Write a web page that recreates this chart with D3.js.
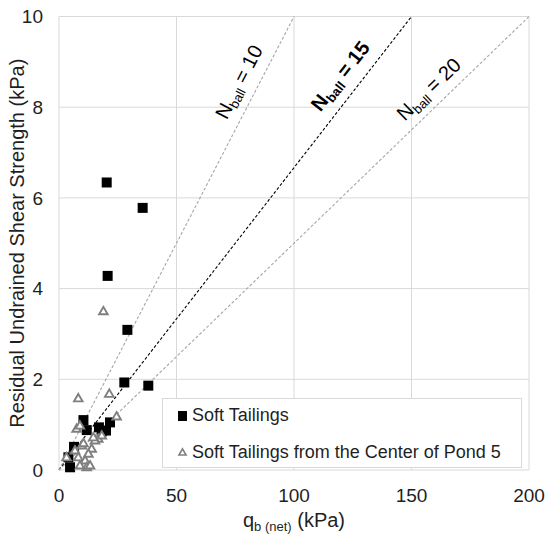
<!DOCTYPE html>
<html>
<head>
<meta charset="utf-8">
<script src="https://cdn.jsdelivr.net/npm/d3@7"></script>
<style>
  body { margin: 0; background: #fff; }
  text { font-family: "Liberation Sans", Arial, sans-serif; fill: #1f1f1f; }
</style>
</head>
<body>
<div class="chart"></div>
<script>
// Soft Tailings (black squares)
var softX = [20.3, 35.6, 20.7, 29.1, 27.8, 38.0, 10.4, 11.8, 17.0, 21.7, 20.0, 18.2, 6.4, 4.0, 4.7];
var softY = [6.34, 5.78, 4.28, 3.09, 1.93, 1.86, 1.10, 0.88, 0.94, 1.05, 0.87, 0.85, 0.51, 0.28, 0.06];

// Soft Tailings from the Center of Pond 5 (grey triangles)
var pondX = [18.9, 8.2, 21.4, 24.5, 3.2, 7.5, 8.9, 16.7, 18.2, 15.3, 13.9, 12.5, 9.7, 6.8, 8.2, 11.1, 11.8, 8.9, 13.2, 10.4, 14.6];
var pondY = [3.51, 1.59, 1.69, 1.19, 0.29, 0.92, 0.99, 0.70, 0.77, 0.66, 0.48, 0.37, 0.55, 0.44, 0.29, 0.22, 0.07, 0.11, 0.11, 0.60, 0.73];

// N_ball reference lines
var nballValues = [10, 15, 20];

var xTicks = [0, 50, 100, 150, 200];
var yTicks = [0, 2, 4, 6, 8, 10];

var svgWidth = 547, svgHeight = 535;
var margin = { top: 16.5, right: 18, bottom: 65, left: 59 };
var width = svgWidth - margin.left - margin.right;
var height = svgHeight - margin.top - margin.bottom;

var svg = d3.select(".chart")
    .append("svg")
    .attr("width", svgWidth)
    .attr("height", svgHeight);

var chartGroup = svg.append("g")
    .attr("transform", `translate(${margin.left}, ${margin.top})`);

var xScale = d3.scaleLinear().domain([0, 200]).range([0, width]);
var yScale = d3.scaleLinear().domain([0, 10]).range([height, 0]);

// gridlines
chartGroup.selectAll(".vgrid")
    .data(xTicks)
    .enter()
    .append("line")
    .attr("x1", d => xScale(d)).attr("x2", d => xScale(d))
    .attr("y1", 0).attr("y2", height)
    .attr("stroke", "#d9d9d9").attr("stroke-width", 1);

chartGroup.selectAll(".hgrid")
    .data(yTicks)
    .enter()
    .append("line")
    .attr("x1", 0).attr("x2", width)
    .attr("y1", d => yScale(d)).attr("y2", d => yScale(d))
    .attr("stroke", "#d9d9d9").attr("stroke-width", 1);

// tick labels
chartGroup.selectAll(".xlab")
    .data(xTicks)
    .enter()
    .append("text")
    .attr("x", d => xScale(d))
    .attr("y", height + 32)
    .attr("text-anchor", "middle")
    .attr("font-size", "19px")
    .text(d => d);

chartGroup.selectAll(".ylab")
    .data(yTicks)
    .enter()
    .append("text")
    .attr("x", -16)
    .attr("y", d => yScale(d))
    .attr("dy", "0.35em")
    .attr("text-anchor", "end")
    .attr("font-size", "19px")
    .text(d => d);

// reference lines y = x / N
var lineData = nballValues.map(n => ({ n: n, x1: 0, y1: 0, x2: 10 * n, y2: 10 }));

chartGroup.selectAll(".nline")
    .data(lineData)
    .enter()
    .append("line")
    .attr("x1", d => xScale(d.x1)).attr("y1", d => yScale(d.y1))
    .attr("x2", d => xScale(d.x2)).attr("y2", d => yScale(d.y2))
    .attr("stroke", d => d.n === 15 ? "#000" : "#a6a6a6")
    .attr("stroke-width", 1.1)
    .attr("stroke-dasharray", "3,2");

// line labels (positions in data units)
var labelPos = { 10: [76.5, 8.56], 15: [119.6, 8.69], 20: [157.3, 8.4] };
lineData.forEach(function (d) {
    var angle = Math.atan2(yScale(d.y2) - yScale(d.y1), xScale(d.x2) - xScale(d.x1)) * 180 / Math.PI;
    var p = labelPos[d.n];
    var t = chartGroup.append("text")
        .attr("transform", `translate(${xScale(p[0])}, ${yScale(p[1])}) rotate(${angle})`)
        .attr("text-anchor", "middle")
        .attr("dy", "0.35em")
        .attr("font-size", "20px")
        .attr("font-weight", d.n === 15 ? "bold" : "normal")
        .style("fill", "#000");
    t.append("tspan").text("N");
    t.append("tspan").attr("font-size", "13px").attr("dy", 4).text("ball");
    t.append("tspan").attr("dy", -4).text(" = " + d.n);
});

// data points
var softData = softX.map((x, i) => ({ x: x, y: softY[i] }));
var pondData = pondX.map((x, i) => ({ x: x, y: pondY[i] }));

chartGroup.selectAll(".sq")
    .data(softData)
    .enter()
    .append("rect")
    .attr("x", d => xScale(d.x) - 5)
    .attr("y", d => yScale(d.y) - 5)
    .attr("width", 10)
    .attr("height", 10)
    .attr("fill", "#000");

var tri = d3.symbol().type(d3.symbolTriangle).size(32);
chartGroup.selectAll(".tri")
    .data(pondData)
    .enter()
    .append("path")
    .attr("d", tri)
    .attr("transform", d => `translate(${xScale(d.x)}, ${yScale(d.y) + 1})`)
    .attr("fill", "#fff")
    .attr("stroke", "#7f7f7f")
    .attr("stroke-width", 1.9);

// legend
var legend = svg.append("g");
legend.append("rect")
    .attr("x", 162.5).attr("y", 398.5)
    .attr("width", 359).attr("height", 69)
    .attr("fill", "#fff")
    .attr("stroke", "#d9d9d9");

legend.append("rect")
    .attr("x", 178).attr("y", 411)
    .attr("width", 9).attr("height", 10)
    .attr("fill", "#000");
legend.append("text")
    .attr("x", 192).attr("y", 421)
    .attr("font-size", "18px")
    .text("Soft Tailings");

legend.append("path")
    .attr("d", d3.symbol().type(d3.symbolTriangle).size(22))
    .attr("transform", "translate(182.5, 453)")
    .attr("fill", "#fff")
    .attr("stroke", "#7f7f7f")
    .attr("stroke-width", 1.6);
legend.append("text")
    .attr("x", 192).attr("y", 458)
    .attr("font-size", "18px")
    .text("Soft Tailings from the Center of Pond 5");

// axis titles
var xt = svg.append("text")
    .attr("x", margin.left + width / 2)
    .attr("y", 527)
    .attr("text-anchor", "middle")
    .attr("font-size", "20px");
xt.append("tspan").text("q");
xt.append("tspan").attr("font-size", "13px").attr("dy", 4).text("b (net)");
xt.append("tspan").attr("dy", -4).text(" (kPa)");

svg.append("text")
    .attr("transform", `translate(24, ${margin.top + height / 2}) rotate(-90)`)
    .attr("text-anchor", "middle")
    .attr("font-size", "20px")
    .text("Residual Undrained Shear Strength (kPa)");
</script>
</body>
</html>
